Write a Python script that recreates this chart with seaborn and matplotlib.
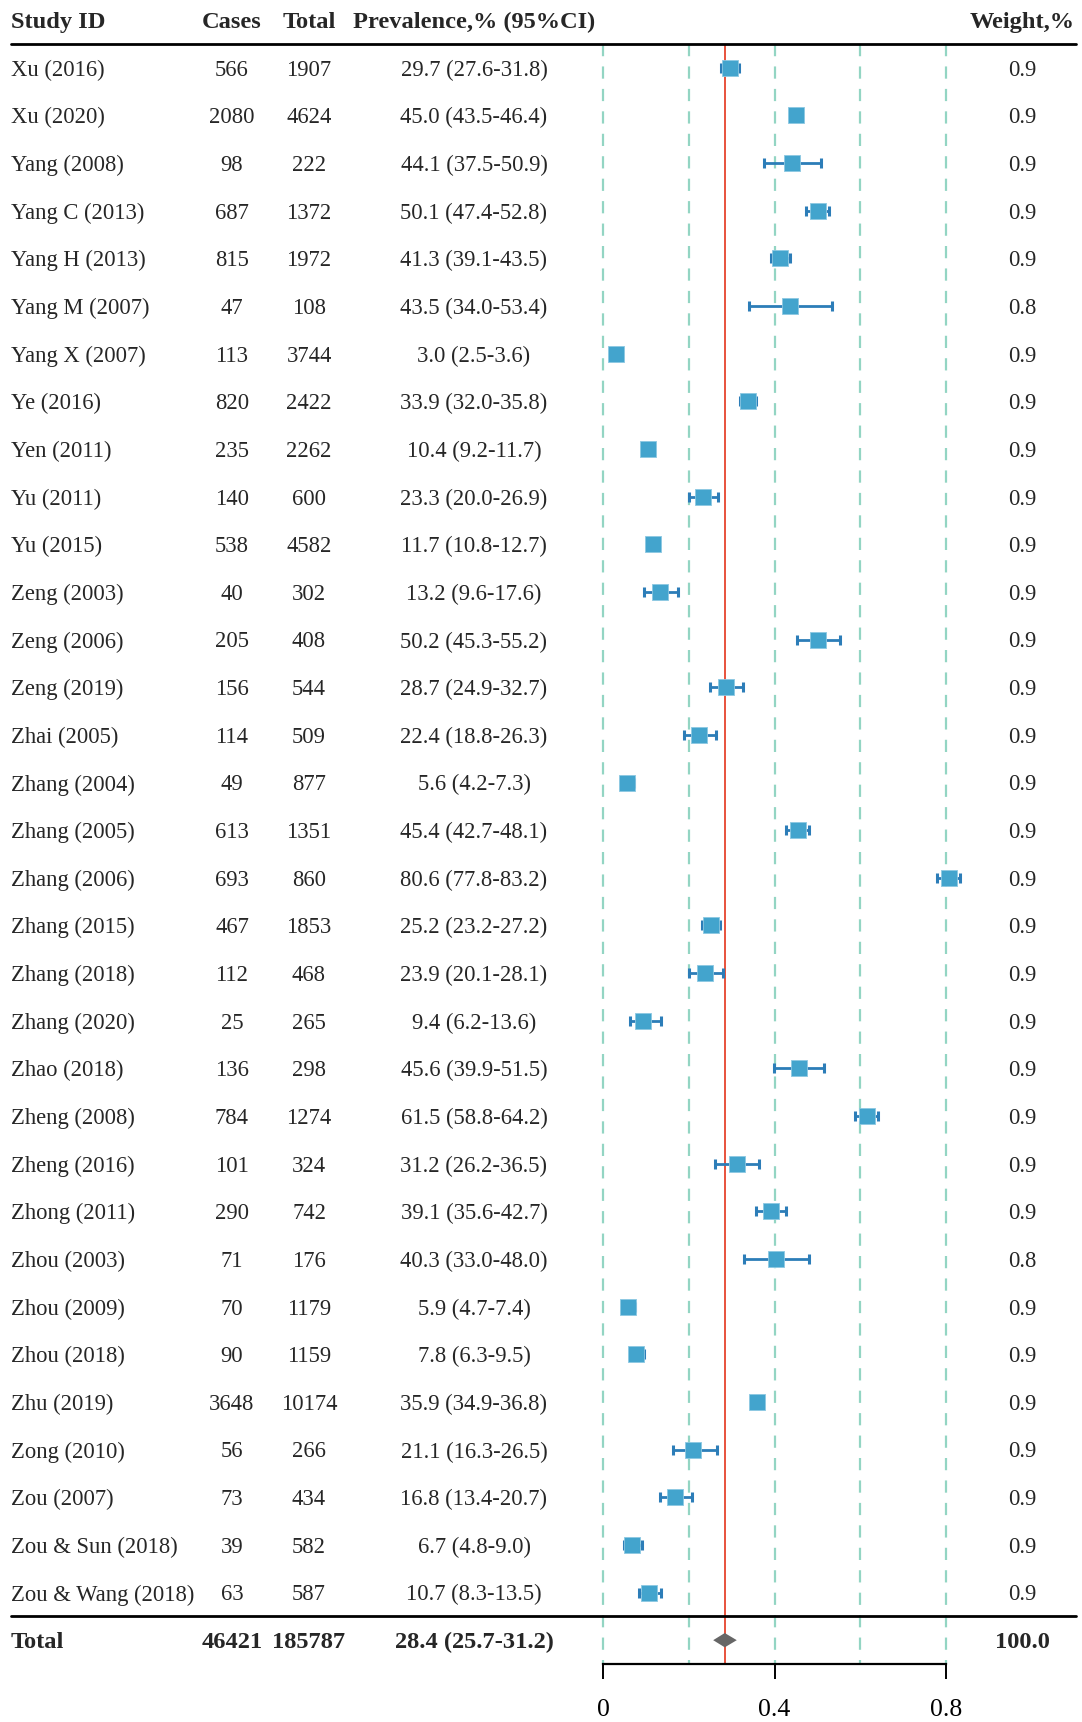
import numpy as np
import pandas as pd
import matplotlib
matplotlib.use("Agg")
import matplotlib.pyplot as plt
import matplotlib.transforms as mtransforms
import seaborn as sns

# ---- study-level data -------------------------------------------------------
studies = [
    "Xu (2016)", "Xu (2020)", "Yang (2008)", "Yang C (2013)", "Yang H (2013)",
    "Yang M (2007)", "Yang X (2007)", "Ye (2016)", "Yen (2011)", "Yu (2011)",
    "Yu (2015)", "Zeng (2003)", "Zeng (2006)", "Zeng (2019)", "Zhai (2005)",
    "Zhang (2004)", "Zhang (2005)", "Zhang (2006)", "Zhang (2015)", "Zhang (2018)",
    "Zhang (2020)", "Zhao (2018)", "Zheng (2008)", "Zheng (2016)", "Zhong (2011)",
    "Zhou (2003)", "Zhou (2009)", "Zhou (2018)", "Zhu (2019)", "Zong (2010)",
    "Zou (2007)", "Zou & Sun (2018)", "Zou & Wang (2018)",
]
cases = [566, 2080, 98, 687, 815, 47, 113, 820, 235, 140, 538, 40, 205, 156, 114,
         49, 613, 693, 467, 112, 25, 136, 784, 101, 290, 71, 70, 90, 3648, 56, 73,
         39, 63]
totals = [1907, 4624, 222, 1372, 1972, 108, 3744, 2422, 2262, 600, 4582, 302, 408,
          544, 509, 877, 1351, 860, 1853, 468, 265, 298, 1274, 324, 742, 176, 1179,
          1159, 10174, 266, 434, 582, 587]
prevalence = [29.7, 45.0, 44.1, 50.1, 41.3, 43.5, 3.0, 33.9, 10.4, 23.3, 11.7, 13.2,
              50.2, 28.7, 22.4, 5.6, 45.4, 80.6, 25.2, 23.9, 9.4, 45.6, 61.5, 31.2,
              39.1, 40.3, 5.9, 7.8, 35.9, 21.1, 16.8, 6.7, 10.7]
ci_low = [27.6, 43.5, 37.5, 47.4, 39.1, 34.0, 2.5, 32.0, 9.2, 20.0, 10.8, 9.6, 45.3,
          24.9, 18.8, 4.2, 42.7, 77.8, 23.2, 20.1, 6.2, 39.9, 58.8, 26.2, 35.6, 33.0,
          4.7, 6.3, 34.9, 16.3, 13.4, 4.8, 8.3]
ci_high = [31.8, 46.4, 50.9, 52.8, 43.5, 53.4, 3.6, 35.8, 11.7, 26.9, 12.7, 17.6,
           55.2, 32.7, 26.3, 7.3, 48.1, 83.2, 27.2, 28.1, 13.6, 51.5, 64.2, 36.5,
           42.7, 48.0, 7.4, 9.5, 36.8, 26.5, 20.7, 9.0, 13.5]
weights = [0.9, 0.9, 0.9, 0.9, 0.9, 0.8, 0.9, 0.9, 0.9, 0.9, 0.9, 0.9, 0.9, 0.9, 0.9,
           0.9, 0.9, 0.9, 0.9, 0.9, 0.9, 0.9, 0.9, 0.9, 0.9, 0.8, 0.9, 0.9, 0.9, 0.9,
           0.9, 0.9, 0.9]

# pooled estimate
pooled_cases = 46421
pooled_total = 185787
pooled_prev = 28.4
pooled_low = 25.7
pooled_high = 31.2
pooled_weight = 100.0

x_ticks = [0, 0.4, 0.8]
grid_x = [0, 0.2, 0.4, 0.6, 0.8]

df = pd.DataFrame({
    "study": studies,
    "row": np.arange(len(studies)),
    "est": np.array(prevalence) / 100,
    "lo": np.array(ci_low) / 100,
    "hi": np.array(ci_high) / 100,
})

# ---- styling ----------------------------------------------------------------
sns.set_theme(style="white")
plt.rcParams["font.family"] = ["Liberation Serif", "DejaVu Serif"]

W, H = 1082, 1722
fig = plt.figure(figsize=(W / 100, H / 100), dpi=100)

n = len(studies)
total_row = n
y_top, y_bot = -0.5, n + 0.5
top_px, bot_px = 44, 1664
left_px, right_px = 603, 946
ax = fig.add_axes([left_px / W, 1 - bot_px / H,
                   (right_px - left_px) / W, (bot_px - top_px) / H])
ax.set_xlim(0, 0.8)
ax.set_ylim(y_bot, y_top)

BOX = "#43A4CD"
WHISK = "#2C7DB8"
GRID = "#93D5C3"
REF = "#E8523C"

# reference grid and pooled-estimate line
ax.vlines(grid_x, y_top, y_bot, colors=GRID, linewidth=1.6,
          linestyles=(0, (5.5, 4.6)), zorder=1, clip_on=False)
ax.vlines(pooled_prev / 100, y_top, y_bot, colors=REF, linewidth=1.4, zorder=2)

# confidence intervals and study boxes
eb = ax.errorbar(df["est"], df["row"],
                 xerr=[df["est"] - df["lo"], df["hi"] - df["est"]],
                 fmt="none", ecolor=WHISK, elinewidth=2.0, capsize=3.8,
                 capthick=2.2, zorder=3)
for artist in eb.get_children():
    artist.set_clip_on(False)
sns.scatterplot(data=df, x="est", y="row", marker="s", s=125, color=BOX,
                edgecolor="#8CC8E2", linewidth=0.6, ax=ax, legend=False, zorder=4,
                clip_on=False)

# pooled diamond
h = 0.15
ax.fill([pooled_low / 100, pooled_prev / 100, pooled_high / 100, pooled_prev / 100],
        [total_row, total_row - h, total_row, total_row + h],
        color="#666666", zorder=4, linewidth=0)

# axis styling
for s in ["top", "left", "right"]:
    ax.spines[s].set_visible(False)
ax.spines["bottom"].set_linewidth(1.6)
ax.spines["bottom"].set_color("black")
ax.set_yticks([])
ax.set_xticks(x_ticks)
ax.set_xticklabels(["0", "0.4", "0.8"])
ax.tick_params(axis="x", direction="out", length=11, width=1.4, pad=14,
               labelsize=18.5, bottom=True, colors="black")
ax.set_xlabel("")
ax.set_ylabel("")
ax.patch.set_alpha(0)

# ---- text columns -----------------------------------------------------------
tr = mtransforms.blended_transform_factory(fig.transFigure, ax.transData)
col_id = 11 / W
col_cases = 232 / W
col_total = 309 / W
col_prev = 474 / W
col_weight = 1022 / W
fs = 16.3
fsb = 17.6
dy = 0.05  # small downward nudge so text sits on the row centre

hdr = dict(transform=tr, fontsize=fsb, fontweight="bold", va="center", clip_on=False)
ax.text(col_id, -1 + dy, "Study ID", ha="left", **hdr)
ax.text(col_cases, -1 + dy, "Cases", ha="center", **hdr)
ax.text(col_total, -1 + dy, "Total", ha="center", **hdr)
ax.text(col_prev, -1 + dy, "Prevalence,% (95%CI)", ha="center", **hdr)
ax.text(col_weight, -1 + dy, "Weight,%", ha="center", **hdr)

body = dict(transform=tr, fontsize=fs, va="center", clip_on=False)
for i in range(n):
    y = i + dy
    ax.text(col_id, y, studies[i], ha="left", **body)
    ax.text(col_cases, y, f"{cases[i]}", ha="center", **body)
    ax.text(col_total, y, f"{totals[i]}", ha="center", **body)
    ax.text(col_prev, y, f"{prevalence[i]:.1f} ({ci_low[i]:.1f}-{ci_high[i]:.1f})",
            ha="center", **body)
    ax.text(col_weight, y, f"{weights[i]:.1f}", ha="center", **body)

yt = total_row + dy
ax.text(col_id, yt, "Total", ha="left", **hdr)
ax.text(col_cases, yt, f"{pooled_cases}", ha="center", **hdr)
ax.text(col_total, yt, f"{pooled_total}", ha="center", **hdr)
ax.text(col_prev, yt,
        f"{pooled_prev:.1f} ({pooled_low:.1f}-{pooled_high:.1f})", ha="center", **hdr)
ax.text(col_weight, yt, f"{pooled_weight:.1f}", ha="center", **hdr)

# horizontal rules
for yy in [y_top, n - 0.5]:
    ax.plot([11 / W, 1076 / W], [yy, yy], transform=tr, color="black",
            linewidth=2.0, clip_on=False, zorder=5)

fig.savefig("out.png", dpi=100)
